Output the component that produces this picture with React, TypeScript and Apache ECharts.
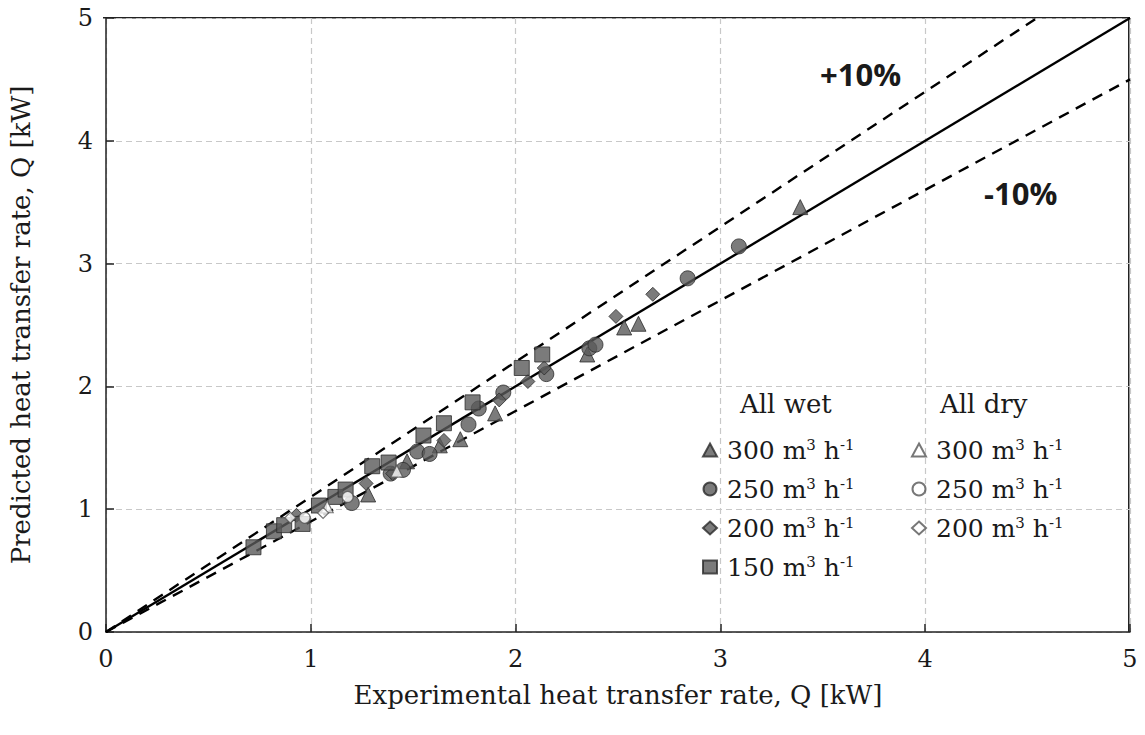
import React, { useEffect, useRef } from "react";
import * as echarts from "echarts";

const wet300 = [[1.28,1.12],[1.47,1.39],[1.63,1.52],[1.73,1.57],[1.90,1.78],[2.35,2.26],[2.53,2.48],[2.60,2.51],[3.39,3.46]];
const wet250 = [[1.20,1.05],[1.39,1.29],[1.45,1.32],[1.52,1.47],[1.58,1.45],[1.77,1.69],[1.82,1.82],[1.94,1.95],[2.15,2.10],[2.36,2.31],[2.39,2.34],[2.84,2.88],[3.09,3.14]];
const wet200 = [[0.93,0.95],[1.27,1.21],[1.40,1.29],[1.65,1.56],[1.92,1.89],[2.06,2.04],[2.14,2.15],[2.49,2.57],[2.67,2.75]];
const wet150 = [[0.72,0.69],[0.82,0.82],[0.87,0.87],[0.96,0.88],[1.04,1.03],[1.12,1.10],[1.17,1.16],[1.30,1.35],[1.38,1.38],[1.55,1.60],[1.65,1.70],[1.79,1.87],[2.03,2.15],[2.13,2.26]];
const dry300 = [[1.08,1.02],[1.42,1.31]];
const dry250 = [[0.97,0.93],[1.18,1.10]];
const dry200 = [[0.90,0.93],[1.06,0.97]];
const lineExact = [[0,0],[5,5]];
const linePlus = [[0,0],[5,5.5]];
const lineMinus = [[0,0],[5,4.5]];
const legendLabels: Record<string,string> = {
  wet300: "300 m{sup|3} h{sup|-1}",
  wet250: "250 m{sup|3} h{sup|-1}",
  wet200: "200 m{sup|3} h{sup|-1}",
  wet150: "150 m{sup|3} h{sup|-1}",
  dry300: "300 m{sup|3} h{sup|-1}",
  dry250: "250 m{sup|3} h{sup|-1}",
  dry200: "200 m{sup|3} h{sup|-1}",
};

const SERIF = "DejaVu Serif";

export default function App() {
  const ref = useRef<HTMLDivElement>(null);
  useEffect(() => {
    const chart = echarts.init(ref.current!, null, { renderer: "svg" });
    const wetStyle = { color: "#5a5a5a", borderColor: "#2a2a2a", borderWidth: 1 };
    const dryStyle = { color: "#ffffff", borderColor: "#555", borderWidth: 1.2 };
    const sc = (name: string, data: number[][], symbol: string, size: number, style: any) => ({
      name, type: "scatter", data, symbol, symbolSize: size, itemStyle: style, z: 5,
    });
    const ln = (data: number[][], type: any) => ({
      type: "line", data, symbol: "none", clip: true, z: 3,
      lineStyle: { color: "#000", width: 2.4, type },
    });
    const legendText = {
      fontFamily: SERIF, fontSize: 25, color: "#1a1a1a", lineHeight: 26, padding: [0, 0, 0, 5],
      rich: { sup: { fontFamily: SERIF, fontSize: 15, verticalAlign: "top", lineHeight: 26, padding: [0, 0, 8, 0] } },
    };
    chart.setOption({
      animation: false,
      backgroundColor: "#fff",
      grid: { left: 103, right: 15, top: 18, bottom: 103 },
      xAxis: {
        type: "value", min: 0, max: 5, interval: 1,
        name: "Experimental heat transfer rate, Q [kW]", nameLocation: "middle", nameGap: 50,
        nameTextStyle: { fontFamily: SERIF, fontSize: 26, color: "#1a1a1a" },
        axisLine: { show: true, lineStyle: { color: "#222", width: 1.5 } },
        axisTick: { show: true, inside: true, length: 8, lineStyle: { color: "#222", width: 1.5 } },
        axisLabel: { fontFamily: SERIF, fontSize: 24, color: "#1a1a1a", margin: 15 },
        splitLine: { show: true, lineStyle: { color: "#c8c8c8", type: [6, 4], width: 1.2 } },
      },
      yAxis: {
        type: "value", min: 0, max: 5, interval: 1,
        name: "Predicted heat transfer rate, Q [kW]", nameLocation: "middle", nameGap: 72,
        nameTextStyle: { fontFamily: SERIF, fontSize: 26, color: "#1a1a1a" },
        axisLine: { show: true, lineStyle: { color: "#222", width: 1.5 } },
        axisTick: { show: true, inside: true, length: 8, lineStyle: { color: "#222", width: 1.5 } },
        axisLabel: { fontFamily: SERIF, fontSize: 24, color: "#1a1a1a", margin: 13 },
        splitLine: { show: true, lineStyle: { color: "#c8c8c8", type: [6, 4], width: 1.2 } },
      },
      legend: [
        {
          data: ["wet300", "wet250", "wet200", "wet150"], orient: "vertical",
          left: 697, top: 432, itemWidth: 14, itemHeight: 13, itemGap: 13,
          formatter: (n: string) => legendLabels[n], textStyle: legendText, selectedMode: false,
        },
        {
          data: ["dry300", "dry250", "dry200"], orient: "vertical",
          left: 906, top: 432, itemWidth: 14, itemHeight: 13, itemGap: 13,
          formatter: (n: string) => legendLabels[n], textStyle: legendText, selectedMode: false,
        },
      ],
      graphic: [
        { type: "rect", left: 1128, top: 18, shape: { width: 1.5, height: 614 }, style: { fill: "#222" }, silent: true },
        { type: "rect", left: 103, top: 17, shape: { width: 1027, height: 1.5 }, style: { fill: "#222" }, silent: true },
        { type: "text", left: 740, top: 391, style: { text: "All wet", font: `26px '${SERIF}'`, fill: "#1a1a1a" } },
        { type: "text", left: 940, top: 391, style: { text: "All dry", font: `26px '${SERIF}'`, fill: "#1a1a1a" } },
        { type: "text", left: 820, top: 58, style: { text: "+10%", font: `bold 31px 'Open Sans'`, fill: "#1a1a1a" } },
        { type: "text", left: 984, top: 177, style: { text: "-10%", font: `bold 31px 'Open Sans'`, fill: "#1a1a1a" } },
      ],
      series: [
        ln(lineExact, "solid"),
        ln(linePlus, [11, 8]),
        ln(lineMinus, [11, 8]),
        sc("wet300", wet300, "triangle", 15, wetStyle),
        sc("wet250", wet250, "circle", 15, wetStyle),
        sc("wet200", wet200, "diamond", 14, wetStyle),
        sc("wet150", wet150, "rect", 15, wetStyle),
        sc("dry300", dry300, "triangle", 12, dryStyle),
        sc("dry250", dry250, "circle", 11, dryStyle),
        sc("dry200", dry200, "diamond", 11, dryStyle),
      ],
    });
    return () => chart.dispose();
  }, []);
  return <div ref={ref} style={{ width: 1145, height: 735, position: "absolute", left: 0, top: 0 }} />;
}
